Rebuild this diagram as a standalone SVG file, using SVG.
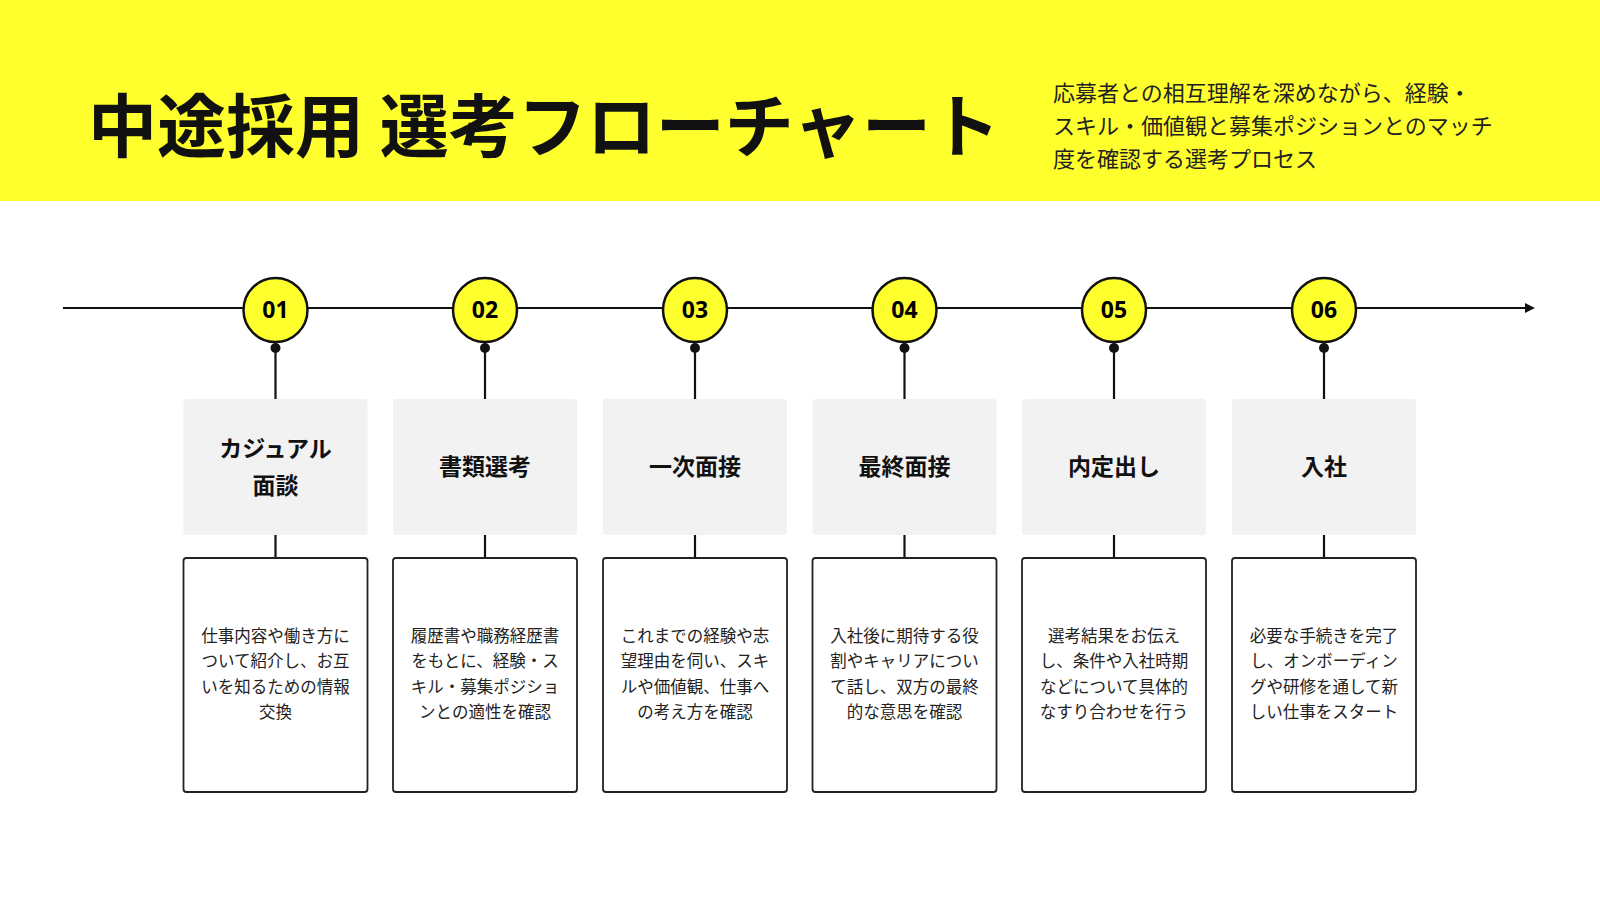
<svg xmlns="http://www.w3.org/2000/svg" width="1600" height="900" viewBox="0 0 1600 900">
<defs>
<style>
.jp{font-family:"Noto Sans CJK JP","Noto Sans",sans-serif;}
.num{font-family:"Noto Sans","Open Sans",sans-serif;font-weight:bold;font-size:23px;text-anchor:middle;}
.ttl{font-weight:bold;font-size:23px;text-anchor:middle;fill:#111;}
.dsc{font-size:16.5px;text-anchor:middle;fill:#222;}
.gray{fill:#f2f2f2;}
.card{fill:#fff;stroke:#222;stroke-width:1.8;}
.circ{fill:#ffff2e;stroke:#111;stroke-width:2.5;}
.ln{stroke:#111;stroke-width:2.2;fill:none;}
</style>
<marker id="ah" viewBox="0 0 10 10" refX="2" refY="5" markerWidth="4.5" markerHeight="4.5" orient="auto"><path d="M0,0L10,5L0,10z" fill="#111"/></marker>
<g id="step">
<line class="ln" x1="0" y1="348" x2="0" y2="399"/>
<circle cx="0" cy="348" r="5" fill="#111"/>
<rect class="gray" x="-92" y="399" width="184" height="136" rx="3"/>
<line class="ln" x1="0" y1="535" x2="0" y2="558"/>
<rect class="card" x="-92" y="558" width="184" height="234" rx="3"/>
</g>
</defs>
<rect x="0" y="0" width="1600" height="201" fill="#ffff2e"/>
<rect x="0" y="201" width="1600" height="699" fill="#fff"/>
<text class="jp" x="88" y="152" font-size="69" font-weight="bold" fill="#111">中途採用 選考フローチャート</text>
<g class="jp" font-size="22" fill="#222">
<text x="1053" y="101">応募者との相互理解を深めながら、経験・</text>
<text x="1053" y="134">スキル・価値観と募集ポジションとのマッチ</text>
<text x="1053" y="167">度を確認する選考プロセス</text>
</g>
<g id="connectors">
<line class="ln" x1="63" y1="308" x2="1527" y2="308" stroke-width="3.5" marker-end="url(#ah)"/>
</g>
<g id="n1" transform="translate(275.5,0)"><use href="#step"/><circle class="circ" cx="0" cy="310" r="32"/><text class="num" x="0" y="318">01</text>
<text class="jp ttl" x="0" y="457">カジュアル</text><text class="jp ttl" x="0" y="494">面談</text>
<g class="jp dsc"><text x="0" y="642">仕事内容や働き方に</text><text x="0" y="667">ついて紹介し、お互</text><text x="0" y="693">いを知るための情報</text><text x="0" y="718">交換</text></g></g>
<g id="n2" transform="translate(485,0)"><use href="#step"/><circle class="circ" cx="0" cy="310" r="32"/><text class="num" x="0" y="318">02</text>
<text class="jp ttl" x="0" y="475">書類選考</text>
<g class="jp dsc"><text x="0" y="642">履歴書や職務経歴書</text><text x="0" y="667">をもとに、経験・ス</text><text x="0" y="693">キル・募集ポジショ</text><text x="0" y="718">ンとの適性を確認</text></g></g>
<g id="n3" transform="translate(695,0)"><use href="#step"/><circle class="circ" cx="0" cy="310" r="32"/><text class="num" x="0" y="318">03</text>
<text class="jp ttl" x="0" y="475">一次面接</text>
<g class="jp dsc"><text x="0" y="642">これまでの経験や志</text><text x="0" y="667">望理由を伺い、スキ</text><text x="0" y="693">ルや価値観、仕事へ</text><text x="0" y="718">の考え方を確認</text></g></g>
<g id="n4" transform="translate(904.5,0)"><use href="#step"/><circle class="circ" cx="0" cy="310" r="32"/><text class="num" x="0" y="318">04</text>
<text class="jp ttl" x="0" y="475">最終面接</text>
<g class="jp dsc"><text x="0" y="642">入社後に期待する役</text><text x="0" y="667">割やキャリアについ</text><text x="0" y="693">て話し、双方の最終</text><text x="0" y="718">的な意思を確認</text></g></g>
<g id="n5" transform="translate(1114,0)"><use href="#step"/><circle class="circ" cx="0" cy="310" r="32"/><text class="num" x="0" y="318">05</text>
<text class="jp ttl" x="0" y="475">内定出し</text>
<g class="jp dsc"><text x="0" y="642">選考結果をお伝え</text><text x="0" y="667">し、条件や入社時期</text><text x="0" y="693">などについて具体的</text><text x="0" y="718">なすり合わせを行う</text></g></g>
<g id="n6" transform="translate(1324,0)"><use href="#step"/><circle class="circ" cx="0" cy="310" r="32"/><text class="num" x="0" y="318">06</text>
<text class="jp ttl" x="0" y="475">入社</text>
<g class="jp dsc"><text x="0" y="642">必要な手続きを完了</text><text x="0" y="667">し、オンボーディン</text><text x="0" y="693">グや研修を通して新</text><text x="0" y="718">しい仕事をスタート</text></g></g>
</svg>
